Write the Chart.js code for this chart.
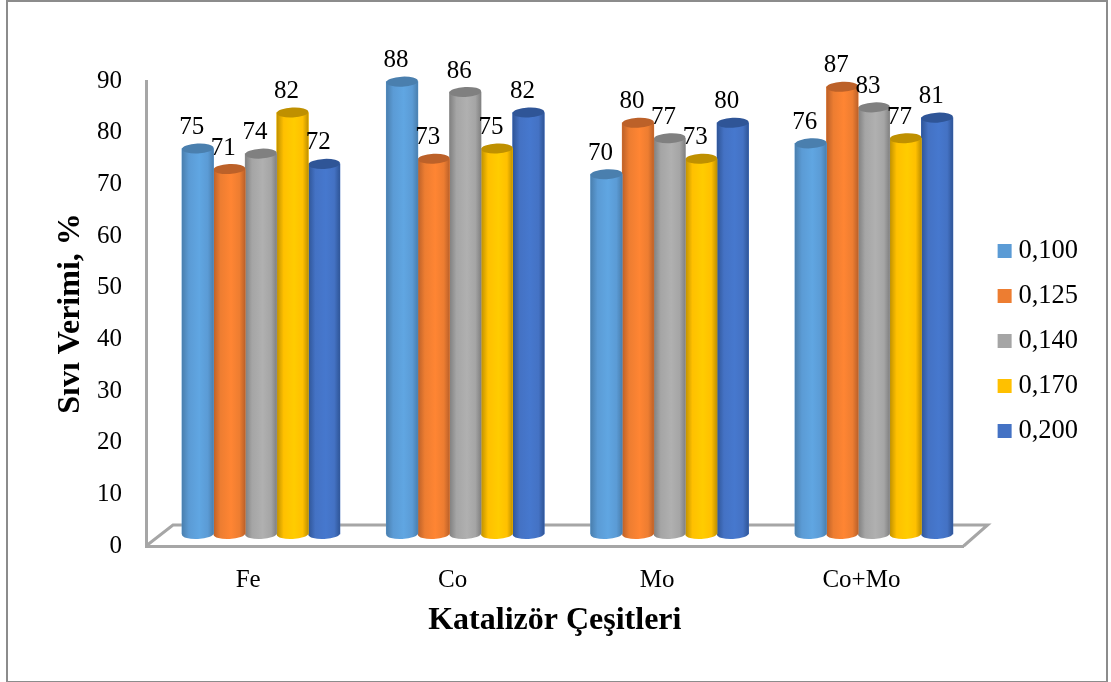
<!DOCTYPE html>
<html>
<head>
<meta charset="utf-8">
<style>
  body { margin: 0; background: #fff; }
  #wrap { position: relative; width: 1111px; height: 682px; overflow: hidden; }
  #frame { position: absolute; left: 6px; top: 0; width: 1098px; height: 679px; border: 2px solid #8c8c8c; }
  canvas { position: absolute; left: 0; top: 0; }
</style>
</head>
<body>
<div id="wrap">
  <div id="frame"></div>
  <canvas id="verimChart" width="1111" height="682"></canvas>
</div>
<script src="https://cdn.jsdelivr.net/npm/chart.js@4"></script>
<script>
const categories = ['Fe', 'Co', 'Mo', 'Co+Mo'];
const seriesNames = ['0,100', '0,125', '0,140', '0,170', '0,200'];
const values100 = [75, 88, 70, 76];
const values125 = [71, 73, 80, 87];
const values140 = [74, 86, 77, 83];
const values170 = [82, 75, 73, 77];
const values200 = [72, 82, 80, 81];
const seriesValues = [values100, values125, values140, values170, values200];

const bodyColors = ['#5B9BD5', '#ED7D31', '#A5A5A5', '#FFC000', '#4472C4'];
const brightColors = ['#60A6E2', '#FF8533', '#B0B0B0', '#FFCC00', '#4678CE'];
const capColors = ['#4A7FAE', '#BC6129', '#808080', '#BF9000', '#2F5597'];

const fontName = '"Liberation Serif", "Times New Roman", serif';
const axisGray = '#A6A6A6';
const capHeight = 5;

// cylinders are painted over the bars the library has placed
const cylinderPlugin = {
    id: 'cylinder',
    afterDatasetDraw(chart, args) {
        const ctx = chart.ctx;
        const i = args.index;
        chart.getDatasetMeta(i).data.forEach((bar) => {
            const halfW = bar.width / 2;
            const left = bar.x - halfW;
            const right = bar.x + halfW;
            const grad = ctx.createLinearGradient(left, 0, right, 0);
            grad.addColorStop(0, capColors[i]);
            grad.addColorStop(0.22, bodyColors[i]);
            grad.addColorStop(0.55, brightColors[i]);
            grad.addColorStop(0.82, bodyColors[i]);
            grad.addColorStop(1, capColors[i]);
            ctx.save();
            ctx.fillStyle = grad;
            ctx.beginPath();
            ctx.moveTo(left, bar.y);
            ctx.lineTo(left, bar.base);
            ctx.ellipse(bar.x, bar.base, halfW, capHeight, -0.05, Math.PI, 0, true);
            ctx.lineTo(right, bar.y);
            ctx.closePath();
            ctx.fill();
            ctx.fillStyle = capColors[i];
            ctx.beginPath();
            ctx.ellipse(bar.x, bar.y, halfW, capHeight, -0.05, 0, Math.PI * 2);
            ctx.fill();
            ctx.restore();
        });
    },
};

const floorPlugin = {
    id: 'floor',
    beforeDatasetsDraw(chart) {
        const ctx = chart.ctx;
        const area = chart.chartArea;
        ctx.save();
        ctx.strokeStyle = axisGray;
        ctx.lineWidth = 3;
        ctx.beginPath();
        ctx.moveTo(area.left, area.bottom);
        ctx.lineTo(area.left + 27, area.bottom - 21);
        ctx.lineTo(area.right + 24, area.bottom - 21);
        ctx.lineTo(area.right, area.bottom);
        ctx.stroke();
        ctx.restore();
    },
};

const valueLabelPlugin = {
    id: 'valueLabels',
    afterDatasetsDraw(chart) {
        const ctx = chart.ctx;
        ctx.save();
        ctx.font = '25px ' + fontName;
        ctx.fillStyle = '#000';
        ctx.textAlign = 'center';
        ctx.textBaseline = 'middle';
        seriesValues.forEach((vals, i) => {
            chart.getDatasetMeta(i).data.forEach((bar, j) => {
                ctx.fillText(vals[j], bar.x - 6, bar.y - 21);
            });
        });
        ctx.restore();
    },
};

const verimConfig = {
    type: 'bar',
    data: {
        labels: categories,
        datasets: seriesNames.map((name, i) => ({
            label: name,
            data: seriesValues[i].map((v, j) => ({ x: j, y: v })),
            backgroundColor: bodyColors[i],
            borderWidth: 0,
            xAxisID: 'x1',
            yAxisID: 'y1',
            barThickness: 31.6,
        })),
    },
    options: {
        responsive: false,
        animation: false,
        layout: { padding: { right: 23 } },
        scales: {
            x: {
                type: 'category',
                offset: true,
                afterFit(scale) { scale.height = 136; },
                grid: { display: false, drawTicks: false },
                border: { display: true, color: axisGray, width: 3 },
                ticks: { color: '#000', padding: 19, font: { family: fontName, size: 25 } },
                title: {
                    display: true,
                    text: 'Katalizör Çeşitleri',
                    color: '#000',
                    font: { family: fontName, size: 32, weight: 'bold' },
                    padding: { top: 0, bottom: 42 },
                },
            },
            y: {
                min: 0,
                max: 90,
                afterFit(scale) { scale.width = 146; },
                grid: { display: false, drawTicks: false },
                border: { display: true, color: axisGray, width: 3 },
                ticks: { stepSize: 10, color: '#000', padding: 24, font: { family: fontName, size: 25 } },
                title: {
                    display: true,
                    text: 'Sıvı Verimi, %',
                    color: '#000',
                    font: { family: fontName, size: 32, weight: 'bold' },
                    padding: { top: 52, bottom: 0 },
                },
            },
            // the bars stand deeper in the 3D box than the front axes
            x1: {
                type: 'linear',
                display: false,
                offset: false,
                min: -0.5626,
                max: 3.439,
            },
            y1: {
                position: 'right',
                min: -2.335,
                max: 88.13,
                afterFit(scale) { scale.width = 22; },
                grid: { display: false, drawTicks: false },
                border: { display: false },
                ticks: { display: false },
            },
        },
        plugins: {
            title: {
                display: true,
                text: '',
                font: { size: 1, lineHeight: 1 },
                padding: { top: 80, bottom: 0 },
            },
            legend: {
                position: 'right',
                labels: {
                    color: '#000',
                    font: { family: fontName, size: 26.5 },
                    padding: 18.5,
                    usePointStyle: true,
                    boxWidth: 1,
                    boxHeight: 14,
                    generateLabels(chart) {
                        return seriesNames.map((name, i) => ({
                            text: name,
                            fillStyle: bodyColors[i],
                            strokeStyle: bodyColors[i],
                            fontColor: '#000',
                            lineWidth: 0,
                            pointStyle: 'rect',
                            datasetIndex: i,
                        }));
                    },
                },
            },
            tooltip: { enabled: false },
        },
    },
    plugins: [floorPlugin, cylinderPlugin, valueLabelPlugin],
};

const verimChart = new Chart(document.getElementById('verimChart').getContext('2d'), verimConfig);
</script>
</body>
</html>
